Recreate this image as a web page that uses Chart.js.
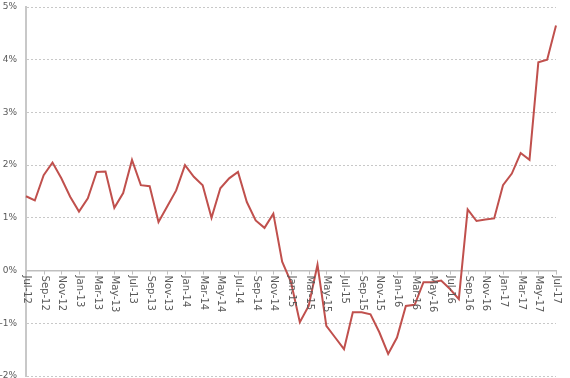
<!DOCTYPE html>
<html lang="en">
<head>
    <meta charset="UTF-8">
    <title>Monthly change</title>
    <script src="https://cdn.jsdelivr.net/npm/chart.js"></script>
    <style>
        body { margin: 0; background: #fff; }
        #wrap { width: 570px; height: 378px; }
    </style>
</head>
<body>
    <div id="wrap"><canvas id="myChart" width="570" height="378"></canvas></div>
    <script>
        // months Jul-12 .. Jul-17
        const months = ['Jul-12','Aug-12','Sep-12','Oct-12','Nov-12','Dec-12',
            'Jan-13','Feb-13','Mar-13','Apr-13','May-13','Jun-13','Jul-13','Aug-13','Sep-13','Oct-13','Nov-13','Dec-13',
            'Jan-14','Feb-14','Mar-14','Apr-14','May-14','Jun-14','Jul-14','Aug-14','Sep-14','Oct-14','Nov-14','Dec-14',
            'Jan-15','Feb-15','Mar-15','Apr-15','May-15','Jun-15','Jul-15','Aug-15','Sep-15','Oct-15','Nov-15','Dec-15',
            'Jan-16','Feb-16','Mar-16','Apr-16','May-16','Jun-16','Jul-16','Aug-16','Sep-16','Oct-16','Nov-16','Dec-16',
            'Jan-17','Feb-17','Mar-17','Apr-17','May-17','Jun-17','Jul-17'];

        // values in %
        const values = [1.41, 1.33, 1.81, 2.05, 1.75, 1.40,
            1.12, 1.37, 1.87, 1.88, 1.19, 1.47, 2.10, 1.62, 1.60, 0.92, 1.22, 1.52,
            2.00, 1.78, 1.62, 1.00, 1.56, 1.75, 1.87, 1.30, 0.95, 0.81, 1.08, 0.17,
            -0.22, -0.98, -0.67, 0.11, -1.05, -1.27, -1.49, -0.79, -0.79, -0.83, -1.17, -1.58,
            -1.27, -0.67, -0.65, -0.22, -0.22, -0.19, -0.35, -0.54, 1.16, 0.94, 0.97, 0.99,
            1.62, 1.84, 2.23, 2.10, 3.95, 4.00, 4.65];

        const yMin = -2;
        const yMax = 5;

        // x labels drawn top-to-bottom under the zero line, every second month
        const monthLabels = {
            id: 'monthLabels',
            afterDraw(chart) {
                const c = chart.ctx;
                const xs = chart.scales.x;
                const y0 = chart.scales.y.getPixelForValue(0);
                c.save();
                c.strokeStyle = '#bfbfbf';
                c.lineWidth = 1;
                c.fillStyle = '#595959';
                c.font = '10px "DejaVu Sans"';
                c.textBaseline = 'middle';
                c.textAlign = 'left';
                months.forEach((m, i) => {
                    if (i % 2) return;
                    const x = Math.round(xs.getPixelForValue(i)) + 0.5;
                    c.beginPath();
                    c.moveTo(x, y0);
                    c.lineTo(x, y0 + 4);
                    c.stroke();
                    c.save();
                    c.translate(x, y0 + 5);
                    c.rotate(Math.PI / 2);
                    c.fillText(m, 0, 0);
                    c.restore();
                });
                c.restore();
            }
        };

        const ctx = document.getElementById('myChart').getContext('2d');
        const myChart = new Chart(ctx, {
            type: 'line',
            data: {
                labels: months,
                datasets: [{
                    data: values,
                    borderColor: '#c0504d',
                    borderWidth: 2,
                    pointRadius: 0,
                    tension: 0,
                    fill: false
                }]
            },
            options: {
                responsive: false,
                animation: false,
                layout: { padding: { top: 7, right: 14, bottom: 2, left: 0 } },
                plugins: {
                    legend: { display: false },
                    tooltip: { enabled: false }
                },
                scales: {
                    x: {
                        position: { y: 0 },
                        offset: false,
                        afterFit: s => { s.height = 0; s.paddingLeft = 0; s.paddingRight = 0; },
                        grid: { display: false },
                        border: { display: true, color: '#bfbfbf', width: 1.5 },
                        ticks: { display: false }
                    },
                    y: {
                        min: yMin,
                        max: yMax,
                        afterFit: s => { s.width = 26; s.paddingTop = 0; s.paddingBottom = 0; },
                        ticks: {
                            stepSize: 1,
                            padding: 9,
                            color: '#595959',
                            font: { family: 'DejaVu Sans', size: 9 },
                            callback: v => v + '%'
                        },
                        grid: { color: '#c8c8c8', lineWidth: 1, drawTicks: false },
                        border: { display: true, color: '#c8c8c8', width: 2, dash: [2, 2] }
                    }
                }
            },
            plugins: [monthLabels]
        });
    </script>
</body>
</html>
